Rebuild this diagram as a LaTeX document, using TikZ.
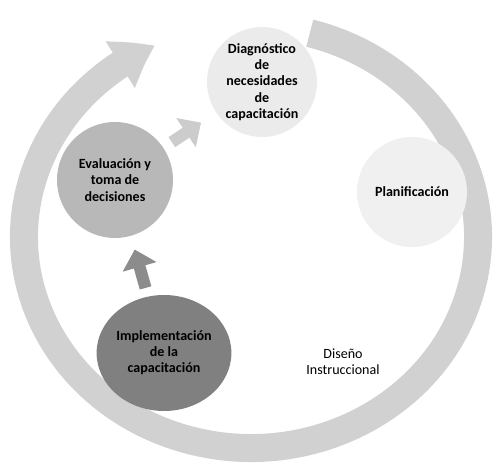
\documentclass[tikz,border=0pt]{standalone}
\usepackage{fontspec}
\setmainfont{Carlito}
\usepackage{tikz}
\usetikzlibrary{arrows.meta, bending, shapes.geometric}
\definecolor{ringgray}{gray}{0.82}

\begin{document}
\begin{tikzpicture}[
        x=0.25cm, y=0.25cm,
        stage/.style={
            circle,
            minimum size=2.75cm,
            inner sep=0pt,
            align=center,
            font=\fontsize{10}{11.5}\selectfont\bfseries
        },
        cycle/.style={line width=0.7cm, draw=ringgray},
        blockarrow/.style={line width=0.3cm, -{Triangle[width=0.85cm, length=0.45cm]}}
    ]
        \useasboundingbox (0,0) rectangle (49.3,46.4);

        % big cycle arrow
        \draw[cycle, -{Triangle[width=1.3cm, length=1cm, bend]}]
            (25.1,22.7) ++(75:22.7 and 21.1)
            arc[start angle=75, end angle=-245, x radius=22.7, y radius=21.1];

        \node[stage, fill=black!8] (diag) at (26.2,38.2) {Diagnóstico\\de\\necesidades\\de\\capacitación};
        \node[stage, fill=black!6] (plan) at (41.2,27.2) {Planificación};
        \node[stage, font=\fontsize{10}{11.5}\selectfont] (diseno) at (34.3,10.2) {Diseño\\Instruccional};
        \node[stage, ellipse, minimum width=3.3cm, minimum height=2.9cm, fill=black!50] (impl) at (16.4,11.1) {Implementación\\de la\\capacitación};
        \node[stage, minimum size=2.9cm, fill=black!28] (eval) at (11.5,28.4) {Evaluación y\\toma de\\decisiones};

        \draw[blockarrow, draw=black!45, shorten <=0.22cm, shorten >=0.35cm] (impl) -- (eval);
        \draw[blockarrow, draw=black!20, shorten <=0.25cm, shorten >=0.45cm] (eval) -- (diag);
    \end{tikzpicture}
\end{document}
